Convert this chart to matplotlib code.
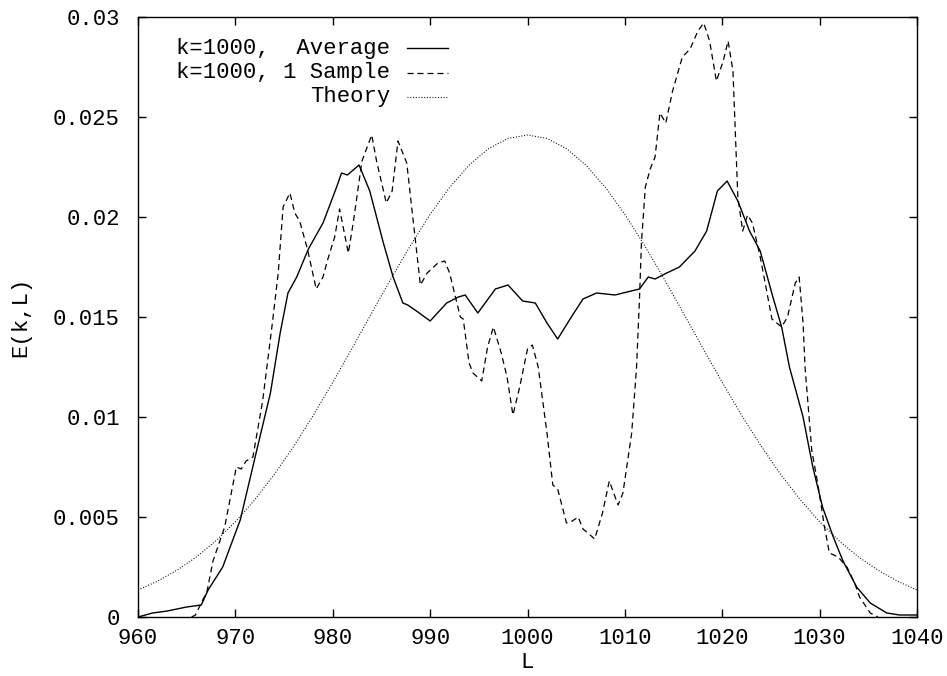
import matplotlib
matplotlib.use("Agg")
import matplotlib.pyplot as plt

# Average over samples, k=1000 (solid)
avg_L = [960, 961.5, 963, 965, 966.5, 967.2, 968.7, 970.5, 972.2, 973.6,
         974.6, 975.4, 976.3, 977.5, 979, 980.4, 980.9, 981.5, 982.7, 983.8, 985.2,
         986.2, 987.2, 987.7, 988.6, 990, 991.7, 992.9, 993.6, 994.9, 996.7, 998,
         999.5, 1000.8, 1002, 1003.1, 1004.5, 1005.7, 1007.1, 1009, 1009.8, 1011.5,
         1012.4, 1013.1, 1014.3, 1015.6, 1017.2, 1018.4, 1019.5, 1020.5, 1021.6,
         1022.8, 1023.9, 1025.2, 1026.1, 1026.9, 1028.3, 1029.3, 1030.3, 1031.4,
         1032.4, 1033.8, 1035.2, 1036.9, 1038.2, 1040]
avg_E = [0, 0.0002, 0.0003, 0.0005, 0.0006, 0.00135, 0.0025, 0.00485, 0.00835, 0.0112,
         0.0142, 0.0162, 0.0170, 0.0184, 0.0197, 0.0215, 0.0222, 0.0221, 0.0226, 0.0213, 0.0187,
         0.0170, 0.0157, 0.0156, 0.0153, 0.0148, 0.0157, 0.0160, 0.0161, 0.0152, 0.0164, 0.0166,
         0.0158, 0.0157, 0.0147, 0.0139, 0.0150, 0.0159, 0.0162, 0.0161, 0.0162, 0.0164,
         0.0170, 0.0169, 0.0172, 0.0175, 0.0183, 0.0193, 0.0213, 0.0218, 0.0208,
         0.0193, 0.0183, 0.0160, 0.0145, 0.0125, 0.0100, 0.0075, 0.0055, 0.0040,
         0.0028, 0.0015, 0.0007, 0.0002, 0.0001, 0.0001]

# Single sample, k=1000 (dashed)
smp_L = [965.5, 965.9, 967.1, 967.7, 968.9, 970.1, 970.6, 971.1, 971.8, 972.8, 973.8,
         974.4, 974.9, 975.6, 976.1, 976.6, 977.4, 978.3, 979.0, 979.5, 980.2, 980.7,
         981.6, 982.1, 983.0, 984.0, 984.5, 985.5, 986.1, 986.7, 987.6, 989.0, 989.7,
         990.8, 991.5, 992.0, 993.1, 993.4, 994.0, 994.4, 995.3, 995.9, 996.5, 997.3,
         997.9, 998.5, 999.2, 1000.0, 1000.5, 1001.1, 1002.0, 1002.6, 1003.1, 1004.0,
         1004.6, 1005.2, 1005.7, 1006.2, 1006.9, 1007.7, 1008.4, 1009.3, 1009.8, 1010.7,
         1011.2, 1011.5, 1011.7, 1012.1, 1012.6, 1013.1, 1013.6, 1014.2, 1014.9, 1015.9,
         1016.7, 1017.5, 1018.1, 1018.7, 1019.4, 1020.1, 1020.6, 1021.1, 1021.6, 1022.1,
         1022.6, 1023.1, 1023.9, 1024.6, 1025.1, 1026.1, 1026.7, 1027.5, 1027.9, 1028.3,
         1028.5, 1029.2, 1029.8, 1030.5, 1031.0, 1031.9, 1032.8, 1033.6, 1034.1, 1035.2,
         1036.0]
smp_E = [0, 0.0001, 0.0013, 0.0028, 0.0045, 0.0075, 0.0074, 0.0078, 0.0080, 0.0108, 0.0147,
         0.0172, 0.0205, 0.0212, 0.0202, 0.0198, 0.0184, 0.0164, 0.0170, 0.0179, 0.0190, 0.0204,
         0.0182, 0.0197, 0.0228, 0.0241, 0.0228, 0.0207, 0.0213, 0.0238, 0.0227, 0.0166, 0.0172,
         0.0177, 0.0178, 0.0172, 0.0150, 0.0149, 0.0127, 0.0122, 0.0118, 0.0135, 0.0145, 0.0132,
         0.0120, 0.0101, 0.0115, 0.0134, 0.0136, 0.0125, 0.0092, 0.0066, 0.0064, 0.0047,
         0.0048, 0.0050, 0.0044, 0.0042, 0.0039, 0.0052, 0.0068, 0.0056, 0.0062, 0.0092,
         0.0125, 0.0159, 0.0187, 0.0215, 0.0224, 0.0230, 0.0252, 0.0247, 0.0263, 0.0280,
         0.0284, 0.0293, 0.0297, 0.0288, 0.0268, 0.0278, 0.0288, 0.0273, 0.0210, 0.0193,
         0.0201, 0.0197, 0.0180, 0.0162, 0.0149, 0.0145, 0.0150, 0.0167, 0.0170, 0.0147,
         0.0125, 0.0083, 0.0067, 0.0045, 0.0032, 0.0030, 0.0025, 0.0017, 0.0010, 0.0002,
         0.0]

# Theory curve (dotted), read every 2 units
th_L = list(range(960, 1041, 2))
th_E = [0.00135, 0.00179, 0.00234, 0.00300, 0.00381, 0.00476, 0.00587, 0.00713,
        0.00854, 0.01008, 0.01173, 0.01345, 0.01520, 0.01693, 0.01859, 0.02013,
        0.02148, 0.02259, 0.02342, 0.02393, 0.02410,
        0.02393, 0.02342, 0.02259, 0.02148, 0.02013, 0.01859, 0.01693, 0.01520,
        0.01345, 0.01173, 0.01008, 0.00854, 0.00713, 0.00587, 0.00476, 0.00381,
        0.00300, 0.00234, 0.00179, 0.00135]

legend_labels = ["k=1000,  Average", "k=1000, 1 Sample", "Theory"]
x_ticks = list(range(960, 1041, 10))
y_ticks = [0, 0.005, 0.01, 0.015, 0.02, 0.025, 0.03]
y_tick_labels = ["0", "0.005", "0.01", "0.015", "0.02", "0.025", "0.03"]

plt.rcParams['font.family'] = ['Liberation Mono', 'DejaVu Sans Mono']
plt.rcParams['font.size'] = 16
plt.rcParams['lines.scale_dashes'] = False

fig = plt.figure(figsize=(9.47, 6.76), dpi=100)
ax = fig.add_axes([138 / 947, 1 - 617 / 676, 779 / 947, 600 / 676])

solid = dict(color='black', lw=1.0, linestyle='-')
dashed = dict(color='black', lw=0.9, linestyle=(0, (4.3, 2.9)))
dotted = dict(color='black', lw=0.8, linestyle=(0, (0.7, 1.3)))

ax.plot(avg_L, avg_E, **solid)
ax.plot(smp_L, smp_E, **dashed)
ax.plot(th_L, th_E, **dotted)

ax.set_xlim(960, 1040)
ax.set_ylim(0, 0.03)
ax.set_xticks(x_ticks)
ax.set_yticks(y_ticks)
ax.set_yticklabels(y_tick_labels)
ax.tick_params(direction='in', length=6, width=1, top=True, right=True)
ax.tick_params(axis='x', pad=8)
ax.tick_params(axis='y', pad=13)
for s in ax.spines.values():
    s.set_linewidth(1.0)

ax.set_xlabel('L', labelpad=2)
ax.set_ylabel('E(k,L)', labelpad=16)

# gnuplot-style key: right-aligned text, line sample to its right
styles = [solid, dashed, dotted]
rows_y = [0.948, 0.907, 0.867]
for lab, st, yy in zip(legend_labels, styles, rows_y):
    ax.text(0.3235, yy, lab, transform=ax.transAxes, ha='right', va='center')
    ax.plot([0.3453, 0.398], [yy, yy], transform=ax.transAxes, clip_on=False, **st)

fig.savefig('out.png', dpi=100)
